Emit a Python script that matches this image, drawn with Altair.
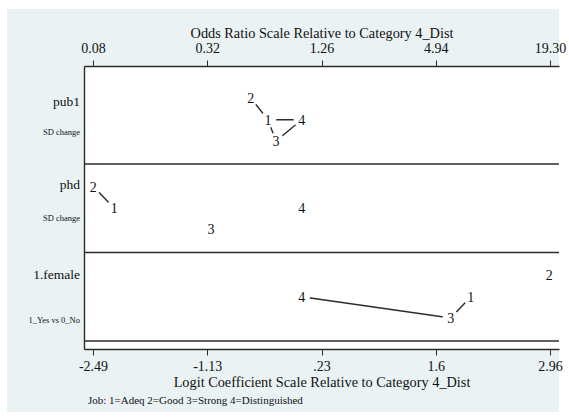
import json
import altair as alt
import pandas as pd

# ---- data -----------------------------------------------------------------
variables = ["pub1", "phd", "1.female"]
var_notes = ["SD change", "SD change", "1_Yes vs 0_No"]
categories = ["1", "2", "3", "4"]

# logit coefficients relative to category 4, one list per variable (cats 1..4)
coef_pub1 = [-0.403, -0.609, -0.308, 0.0]
coef_phd = [-2.236, -2.486, -1.083, 0.0]
coef_female = [2.015, 2.952, 1.776, 0.0]

# pairs of categories joined by a line (not significantly different)
links_pub1 = [("2", "1"), ("1", "4"), ("4", "3"), ("1", "3")]
links_phd = [("2", "1")]
links_female = [("4", "3"), ("3", "1")]

logit_ticks = [-2.49, -1.1275, 0.235, 1.5975, 2.96]
logit_labels = ["-2.49", "-1.13", ".23", "1.6", "2.96"]
odds_labels = ["0.08", "0.32", "1.26", "4.94", "19.30"]

# ---- layout ---------------------------------------------------------------
W, H = 475, 283
FONT = "Liberation Serif"
INK = "#111111"
LINE = "#2b2b2b"
cat_stagger = [0.0, -0.245, 0.24, 0.0]     # vertical stagger of digits in a row
name_shift = [-0.155, -0.215, -0.198]      # variable name baseline vs row
note_shift = [0.167, 0.144, 0.294]         # note baseline vs row

xscale = alt.Scale(domain=[-2.597, 3.067], nice=False, zero=False)
yscale = alt.Scale(domain=[0.3927, 3.5904], reverse=True, nice=False, zero=False)

coefs = [coef_pub1, coef_phd, coef_female]
links = [links_pub1, links_phd, links_female]

pts = []
for r, (var, cs) in enumerate(zip(variables, coefs), start=1):
    for cat, c, s in zip(categories, cs, cat_stagger):
        pts.append({"var": var, "cat": cat, "x": c, "y": r + s})
pts = pd.DataFrame(pts)

segs = []
for r, (var, pairs) in enumerate(zip(variables, links), start=1):
    sub = pts[pts["var"] == var].set_index("cat")
    for a, b in pairs:
        segs.append({"x": sub.loc[a, "x"], "y": sub.loc[a, "y"],
                     "x2": sub.loc[b, "x"], "y2": sub.loc[b, "y"]})
segs = pd.DataFrame(segs)

labels = pd.DataFrame({
    "name": variables,
    "note": var_notes,
    "yn": [i + 1 + s for i, s in enumerate(name_shift)],
    "ynote": [i + 1 + s for i, s in enumerate(note_shift)],
})
seps = pd.DataFrame({"y": [1.5, 2.5, 3.5]})
one = pd.DataFrame({"k": [0]})

def tick_expr(labs):
    return f"{json.dumps(labs)}[indexof({json.dumps(logit_ticks)}, datum.value)]"

axis_common = dict(
    values=logit_ticks, tickSize=6, tickColor=LINE, tickWidth=1,
    domainColor=LINE, domainWidth=1.4, grid=False, zindex=1,
    labelFont=FONT, labelFontSize=14, labelColor=INK,
    labelFlush=False, labelOverlap=False,
    titleFont=FONT, titleFontSize=14.3, titleFontWeight="normal", titleColor=INK,
)
bottom_axis = alt.Axis(orient="bottom", labelExpr=tick_expr(logit_labels),
                       title="Logit Coefficient Scale Relative to Category 4_Dist",
                       labelPadding=4, titlePadding=2, **axis_common)
top_axis = alt.Axis(orient="top", labelExpr=tick_expr(odds_labels),
                    title="Odds Ratio Scale Relative to Category 4_Dist",
                    labelPadding=5, titlePadding=1, **axis_common)

# ---- layers ---------------------------------------------------------------
panel = alt.Chart(one).mark_rect(color="#eaf2f3").encode(
    x=alt.value(-77), x2=alt.value(W), y=alt.value(-57), y2=alt.value(346))
plot_bg = alt.Chart(one).mark_rect(color="white").encode(
    x=alt.value(0), x2=alt.value(W), y=alt.value(0), y2=alt.value(H))

connectors = alt.Chart(segs).mark_rule(color=LINE, strokeWidth=1.4).encode(
    x=alt.X("x:Q", scale=xscale, axis=None),
    y=alt.Y("y:Q", scale=yscale, axis=None),
    x2="x2:Q", y2="y2:Q")

# white disc behind every digit keeps the joining lines clear of the numbers
masks = alt.Chart(pts).mark_circle(color="white", opacity=1, size=270).encode(
    x=alt.X("x:Q", scale=xscale, axis=top_axis),
    y=alt.Y("y:Q", scale=yscale, axis=None))

separators = alt.Chart(seps).mark_rule(color=LINE, strokeWidth=1.4).encode(
    y=alt.Y("y:Q", scale=yscale,
            axis=alt.Axis(labels=False, ticks=False, title=None, grid=False,
                          domainColor=LINE, domainWidth=1.4, zindex=1)))

digits = alt.Chart(pts).mark_text(font=FONT, fontSize=14, color=INK,
                                  baseline="alphabetic", dy=5).encode(
    x=alt.X("x:Q", scale=xscale, axis=bottom_axis),
    y=alt.Y("y:Q", scale=yscale, axis=None),
    text="cat:N")

names = alt.Chart(labels).mark_text(font=FONT, fontSize=13.5, color=INK,
                                    align="right", baseline="alphabetic").encode(
    x=alt.value(-4), y=alt.Y("yn:Q", scale=yscale, axis=None), text="name:N")
notes = alt.Chart(labels).mark_text(font=FONT, fontSize=8.5, color=INK,
                                    align="right", baseline="alphabetic").encode(
    x=alt.value(-4), y=alt.Y("ynote:Q", scale=yscale, axis=None), text="note:N")

legend_note = alt.Chart(one).mark_text(
    font=FONT, fontSize=11, color=INK, align="left", baseline="alphabetic").encode(
    x=alt.value(4), y=alt.value(338),
    text=alt.value("Job: 1=Adeq 2=Good 3=Strong 4=Distinguished"))

chart = alt.layer(
    panel, plot_bg, connectors, masks, separators, digits, names, notes, legend_note
).resolve_axis(x="independent", y="independent").properties(
    width=W, height=H,
    autosize=alt.AutoSizeParams(type="none"),
    padding={"left": 84, "top": 66, "right": 10, "bottom": 68},
    background="white",
).configure_view(stroke=None, fill=None)

chart.save("out.html", embed_options={"renderer": "svg", "actions": False})
